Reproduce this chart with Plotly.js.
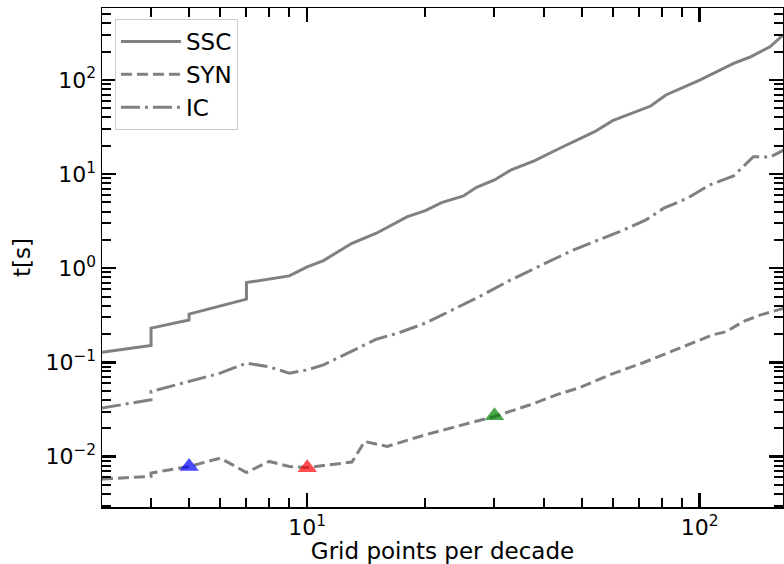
<!DOCTYPE html>
<html>
<head>
<meta charset="utf-8">
<script src="https://cdn.plot.ly/plotly-3.0.1.min.js"></script>
<style>html,body{margin:0;padding:0;background:#fff;}#chart{width:784px;height:564px;}</style>
</head>
<body>
<div id="chart"></div>
<script>
// Data
const sscX = [3,4,4,5,5,6,7,7,9,10,11,13,15,18,20,22,25,27,30,33,38,44,54,60,75,82,100,122,134,151,163];
const sscY = [0.128,0.151,0.231,0.282,0.325,0.398,0.469,0.703,0.828,1.03,1.205,1.84,2.35,3.53,4.08,4.97,5.86,7.24,8.65,11.0,13.9,18.8,28.2,36.9,52.8,69.2,99.7,150,174,225,300];

const synX = [3,4,4,5,6,7,8,9,10,13,14,16,20,24,30,37,44,49,59,72,91,108,117,129,143,164];
const synY = [0.00575,0.00614,0.00667,0.00783,0.0096,0.00676,0.00885,0.00783,0.00764,0.00872,0.0144,0.0128,0.0170,0.0208,0.0266,0.0354,0.0464,0.0532,0.0736,0.0996,0.147,0.196,0.212,0.271,0.319,0.376];

const icX = [3,4,4,5,6,7,8,9,10,11,13,14,15,17,20,23.5,27.5,33,39,47.6,64,73,81,93,106,122,137,151,164];
const icY = [0.0327,0.040,0.049,0.0625,0.0767,0.098,0.0895,0.0767,0.083,0.094,0.130,0.153,0.176,0.204,0.261,0.360,0.50,0.751,1.04,1.56,2.55,3.26,4.34,5.53,7.66,9.55,15.3,15.1,18.0];

const markX = [5,10,30];
const markY = [0.0078,0.0076,0.027];
const markColors = ['rgba(0,0,255,0.7)','rgba(255,0,0,0.7)','rgba(0,128,0,0.7)'];

const xTickVals = [10,100];
const xTickText = ['10<sup>1</sup>','10<sup>2</sup>'];
const yTickVals = [0.01,0.1,1,10,100];
const yTickText = ['10<sup>\u22122</sup>','10<sup>\u22121</sup>','10<sup>0</sup>','10<sup>1</sup>','10<sup>2</sup>'];

function minorVals(lo, hi){
  const out=[];
  for(let e=lo;e<=hi;e++){for(let m=2;m<=9;m++){out.push(m*Math.pow(10,e));}}
  return out;
}

const lineColor = '#808080';
const font = {family:'DejaVu Sans, sans-serif', size:23, color:'#000'};
const tickFont = {family:'DejaVu Sans, sans-serif', size:22, color:'#000'};

const traces = [
  {x:sscX, y:sscY, name:'SSC', mode:'lines', line:{color:lineColor, width:3}},
  {x:synX, y:synY, name:'SYN', mode:'lines', line:{color:lineColor, width:3, dash:'11px,5px'}},
  {x:icX, y:icY, name:'IC', mode:'lines', line:{color:lineColor, width:3, dash:'19px,5px,3px,5px'}},
  {x:markX, y:markY, mode:'markers', showlegend:false, hoverinfo:'skip',
   marker:{symbol:'triangle-up', size:17, color:markColors, line:{width:0}}}
];

const axisCommon = {
  type:'log', showgrid:false, zeroline:false,
  showline:true, linecolor:'#000', linewidth:1.5, mirror:'allticks',
  ticks:'inside', ticklen:14, tickwidth:2.5, tickcolor:'#000',
  tickmode:'array', tickfont:tickFont
};

const layout = {
  width:784, height:564,
  margin:{l:102, r:1, t:8, b:57},
  paper_bgcolor:'#fff', plot_bgcolor:'#fff',
  font:font,
  showlegend:true,
  xaxis:Object.assign({}, axisCommon, {
    range:[Math.log10(3), Math.log10(163)],
    tickvals:xTickVals, ticktext:xTickText,
    minor:{tickmode:'array', tickvals:minorVals(0,2), ticks:'inside', ticklen:9, tickwidth:2, tickcolor:'#000'},
    title:{text:'Grid points per decade', font:font, standoff:4}
  }),
  yaxis:Object.assign({}, axisCommon, {
    range:[-2.537, 2.764],
    tickvals:yTickVals, ticktext:yTickText,
    minor:{tickmode:'array', tickvals:minorVals(-3,2), ticks:'inside', ticklen:9, tickwidth:2, tickcolor:'#000'},
    title:{text:'t[s]', font:font, standoff:8}
  }),
  legend:{x:0.019, y:0.978, xanchor:'left', yanchor:'top',
    bgcolor:'rgba(255,255,255,0.8)', bordercolor:'#cccccc', borderwidth:1,
    itemwidth:60, font:font}
};

Plotly.newPlot('chart', traces, layout, {staticPlot:true, displayModeBar:false});
</script>
</body>
</html>
